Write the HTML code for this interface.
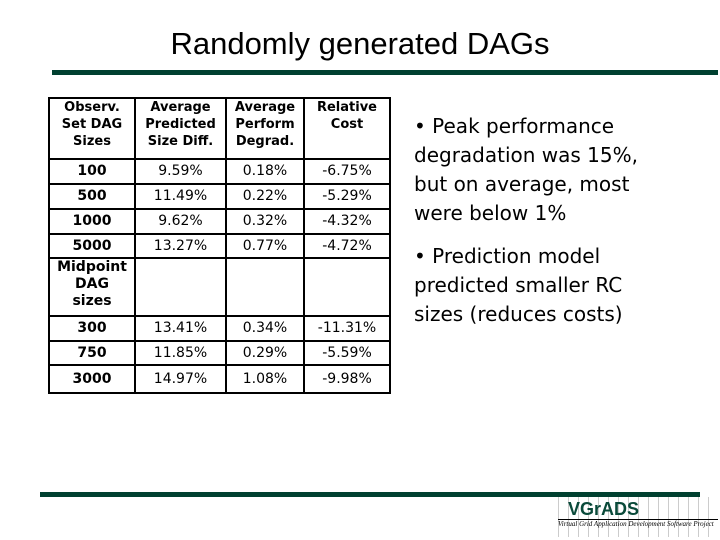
<!DOCTYPE html>
<html><head><meta charset="utf-8"><style>
body{margin:0;width:720px;height:540px;background:#fff;position:relative;overflow:hidden;font-family:"Liberation Sans",sans-serif}
.a{position:absolute}
table{position:absolute;left:48px;top:97px;border-collapse:collapse;font-family:"DejaVu Sans","Liberation Sans",sans-serif;font-size:14px;color:#000}
td{border:2px solid #000;text-align:center;padding:0;line-height:17px}
td.h{font-weight:bold;vertical-align:top;font-size:13px}
td.b{font-weight:bold}
</style></head><body>
<div class="a" style="left:0;width:720px;top:26px;text-align:center;font-size:31px;color:#000">Randomly generated DAGs</div>
<div class="a" style="left:52px;top:70px;width:666px;height:5px;background:#004030"></div>
<table>
<tr style="height:61px"><td class="h" style="width:84px">Observ.<br>Set DAG<br>Sizes</td><td class="h" style="width:89px">Average<br>Predicted<br>Size Diff.</td><td class="h" style="width:76px">Average<br>Perform<br>Degrad.</td><td class="h" style="width:84px">Relative<br>Cost</td></tr>
<tr style="height:25px"><td class="b">100</td><td>9.59%</td><td>0.18%</td><td>-6.75%</td></tr>
<tr style="height:25px"><td class="b">500</td><td>11.49%</td><td>0.22%</td><td>-5.29%</td></tr>
<tr style="height:25px"><td class="b">1000</td><td>9.62%</td><td>0.32%</td><td>-4.32%</td></tr>
<tr style="height:24px"><td class="b">5000</td><td>13.27%</td><td>0.77%</td><td>-4.72%</td></tr>
<tr style="height:58px"><td class="b" style="vertical-align:top">Midpoint<br>DAG<br>sizes</td><td></td><td></td><td></td></tr>
<tr style="height:25px"><td class="b">300</td><td>13.41%</td><td>0.34%</td><td>-11.31%</td></tr>
<tr style="height:24px"><td class="b">750</td><td>11.85%</td><td>0.29%</td><td>-5.59%</td></tr>
<tr style="height:28px"><td class="b">3000</td><td>14.97%</td><td>1.08%</td><td>-9.98%</td></tr>
</table>
<div class="a" style="left:414px;top:112px;width:250px;font-family:'DejaVu Sans',sans-serif;font-size:20px;line-height:29px">• Peak performance degradation was 15%, but on average, most were below 1%</div>
<div class="a" style="left:414px;top:242px;width:250px;font-family:'DejaVu Sans',sans-serif;font-size:20px;line-height:29px">• Prediction model predicted smaller RC sizes (reduces costs)</div>
<div class="a" style="left:40px;top:492px;width:660px;height:5px;background:#004030"></div>
<div class="a" style="left:558px;top:497px;width:160px;height:40px;background:repeating-linear-gradient(90deg,#ccc 0 1px,transparent 1px 10px)">
<div style="position:absolute;left:10px;top:2px;font-weight:bold;font-size:18px;color:#0a4a3a">VGrADS</div>
<div style="position:absolute;left:0;top:22px;width:160px;border-top:1px solid #000;font-family:'Liberation Serif',serif;font-style:italic;font-size:7px;white-space:nowrap">Virtual Grid Application Development Software Project</div>
</div>
</body></html>
